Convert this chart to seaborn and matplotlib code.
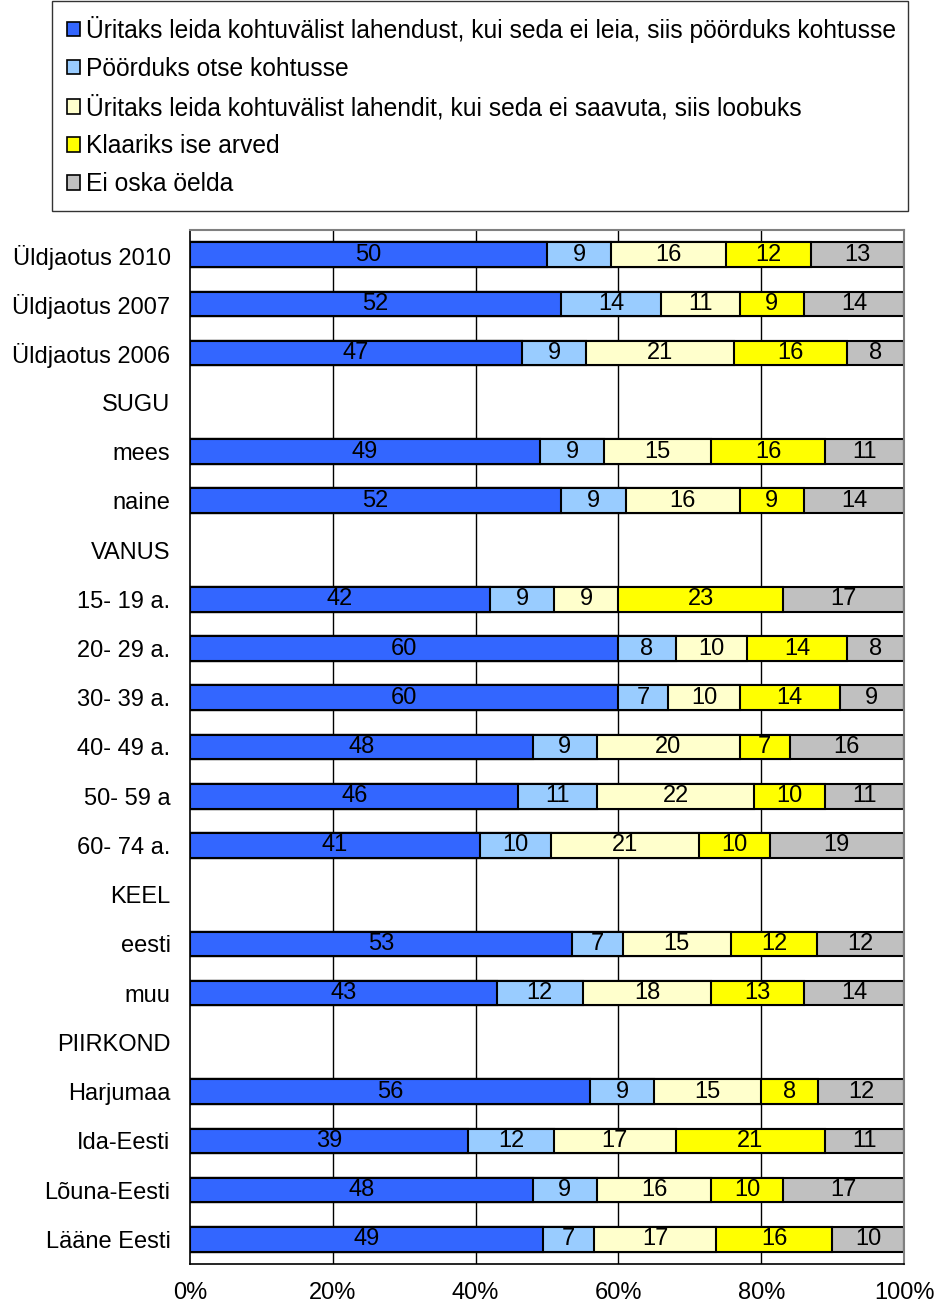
import numpy as np
import pandas as pd
import matplotlib
matplotlib.use('Agg')
import matplotlib.pyplot as plt
from matplotlib.patches import Patch
import seaborn as sns

# Categories (rows) from top to bottom, section headers have no bars
categories = ['Üldjaotus 2010', 'Üldjaotus 2007', 'Üldjaotus 2006', 'SUGU', 'mees', 'naine',
              'VANUS', '15- 19 a.', '20- 29 a.', '30- 39 a.', '40- 49 a.', '50- 59 a', '60- 74 a.',
              'KEEL', 'eesti', 'muu', 'PIIRKOND', 'Harjumaa', 'Ida-Eesti', 'Lõuna-Eesti', 'Lääne Eesti']
headers = ['SUGU', 'VANUS', 'KEEL', 'PIIRKOND']

series_names = ['Üritaks leida kohtuvälist lahendust, kui seda ei leia, siis pöörduks kohtusse',
                'Pöörduks otse kohtusse',
                'Üritaks leida kohtuvälist lahendit, kui seda ei saavuta, siis loobuks',
                'Klaariks ise arved',
                'Ei oska öelda']
colors = ['#3366FF', '#99CCFF', '#FFFFCC', '#FFFF00', '#C0C0C0']

# values per series (rows with bars only, same order as categories without headers)
s_kohtuvaline = [50, 52, 47, 49, 52, 42, 60, 60, 48, 46, 41, 53, 43, 56, 39, 48, 49]
s_otse = [9, 14, 9, 9, 9, 9, 8, 7, 9, 11, 10, 7, 12, 9, 12, 9, 7]
s_loobuks = [16, 11, 21, 15, 16, 9, 10, 10, 20, 22, 21, 15, 18, 15, 17, 16, 17]
s_ise = [12, 9, 16, 16, 9, 23, 14, 14, 7, 10, 10, 12, 13, 8, 21, 10, 16]
s_ei_oska = [13, 14, 8, 11, 14, 17, 8, 9, 16, 11, 19, 12, 14, 12, 11, 17, 10]

bar_rows = [c for c in categories if c not in headers]
df = pd.DataFrame({'cat': bar_rows,
                   series_names[0]: s_kohtuvaline,
                   series_names[1]: s_otse,
                   series_names[2]: s_loobuks,
                   series_names[3]: s_ise,
                   series_names[4]: s_ei_oska})
vals = df[series_names].to_numpy(dtype=float)
pct = vals / vals.sum(axis=1, keepdims=True) * 100
cum = np.cumsum(pct, axis=1)

sns.set_style('white')
plt.rcParams['font.family'] = ['Liberation Sans', 'DejaVu Sans']
plt.rcParams['text.color'] = 'black'
plt.rcParams['xtick.color'] = 'black'
plt.rcParams['ytick.color'] = 'black'
fs = 17

fig = plt.figure(figsize=(9.39, 13.12), dpi=100)
ax = fig.add_axes([190/939, 1 - 1264/1312, (904-190)/939, (1264-230)/1312])

# Gridlines behind bars
for g in [20, 40, 60, 80]:
    ax.axvline(g, color='black', lw=1, zorder=0)

# Stacked bars drawn as overlapping cumulative bars (largest first)
for i in range(4, -1, -1):
    sns.barplot(x=cum[:, i], y=df['cat'], order=categories, orient='h',
                color=colors[i], saturation=1, width=0.5, edgecolor='black',
                linewidth=1.5, errorbar=None, ax=ax, zorder=2)

# Value labels
pos = {c: k for k, c in enumerate(categories)}
for r, c in enumerate(bar_rows):
    for i in range(5):
        center = cum[r, i] - pct[r, i] / 2
        ax.text(center, pos[c], f'{int(vals[r, i])}', ha='center', va='center',
                fontsize=fs, color='black', zorder=5)

ax.set_xlim(0, 100)
ax.set_ylim(len(categories) - 0.5, -0.5)
ax.set_xticks([0, 20, 40, 60, 80, 100])
ax.set_xticklabels(['0%', '20%', '40%', '60%', '80%', '100%'], fontsize=fs)
ax.set_yticks(range(len(categories)))
ax.set_yticklabels(categories, fontsize=fs)
ax.set_yticks(np.arange(-0.5, len(categories), 1), minor=True)
ax.tick_params(axis='y', which='major', length=0, pad=14)
ax.tick_params(axis='y', which='minor', length=7, width=1, color='black', direction='out')
ax.tick_params(axis='x', length=7, width=1, color='black', direction='out', pad=6)
ax.set_xlabel('')
ax.set_ylabel('')
for s in ['left', 'bottom']:
    ax.spines[s].set_color('black')
    ax.spines[s].set_linewidth(1.2)
for s in ['top', 'right']:
    ax.spines[s].set_color('#808080')
    ax.spines[s].set_linewidth(1.5)

handles = [Patch(facecolor=colors[i], edgecolor='black', linewidth=1.2) for i in range(5)]
leg = fig.legend(handles, series_names, loc='upper left',
                 bbox_to_anchor=(52/939, 1 - 1/1312, (908-52)/939, 0.0), mode='expand',
                 fontsize=17.7, frameon=True, fancybox=False, edgecolor='black',
                 handlelength=0.55, handleheight=0.55, handletextpad=0.25,
                 labelspacing=0.57, borderpad=0.6, borderaxespad=0)
leg.get_frame().set_linewidth(1)

fig.savefig('out.png', dpi=100)
